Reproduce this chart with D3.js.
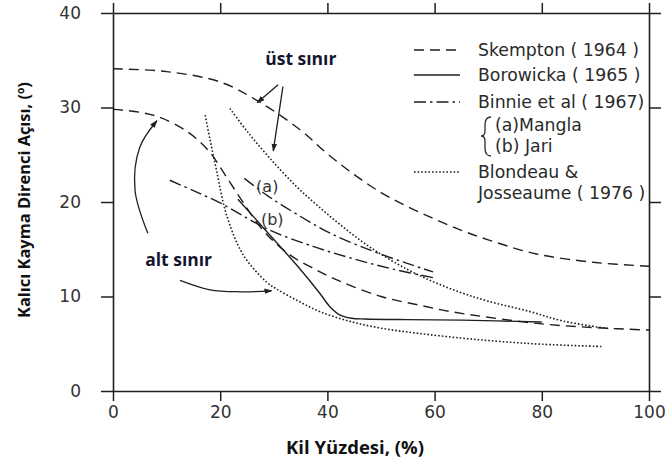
<!DOCTYPE html>
<html>
<head>
<meta charset="utf-8">
<script src="https://cdn.jsdelivr.net/npm/d3@7/dist/d3.min.js"></script>
<style>
  html, body { margin: 0; padding: 0; background: #fff; }
  svg { display: block; }
</style>
</head>
<body>
<svg id="chart" width="665" height="464"></svg>
<script>
// Residual friction angle vs clay fraction (published correlations)
const xTicks = [0, 20, 40, 60, 80, 100];
const yTicks = [0, 10, 20, 30, 40];

// Skempton (1964) – upper and lower bounds
const skemptonUpper = [[0,34.1],[10,33.8],[20,32.7],[27,30.7],[35,27.6],[40,25.1],[45,22.9],[50,21.0],[55,19.5],[60,18.2],[65,17.0],[70,16.0],[79,14.5],[90,13.6],[100,13.2]];
const skemptonLower = [[0,29.8],[5,29.5],[9,28.9],[14,27.4],[18,25.3],[21,22.8],[24,20.2],[28,17.0],[33,14.4],[38,12.8],[42,11.7],[50,10.0],[57,9.1],[63,8.4],[70,7.8],[80,7.1],[90,6.7],[100,6.45]];
// Borowicka (1965)
const borowicka = [[23.3,20.3],[28,17.3],[34.3,13.3],[38.5,10.4],[40.5,8.9],[42.5,8.0],[44.5,7.7],[47,7.62],[55,7.55],[65,7.5],[80,7.3]];
// Binnie et al (1967): (a) Mangla, (b) Jari
const binnieMangla = [[24.5,22.5],[29,20.6],[34.3,18.7],[40.5,16.7],[48,14.9],[54.9,13.5],[59.7,12.6]];
const binnieJari = [[10.6,22.3],[15,21.2],[20,19.9],[25,18.3],[29.3,17.0],[37.3,15.3],[44.8,14.0],[52.2,12.9],[59.7,12.0]];
// Blondeau & Josseaume (1976) – upper and lower bounds
const blondeauUpper = [[21.8,29.9],[25,27.5],[29.3,24.6],[34.3,21.6],[38,19.7],[42.4,17.6],[48,15.2],[54.8,12.9],[60,11.5],[65,10.4],[70,9.5],[77.8,8.4],[84,7.4],[92.5,6.6]];
const blondeauLower = [[17.2,29.2],[18.1,26.6],[19.3,23.4],[21.2,18.6],[24.3,14.4],[28.7,11.5],[30.5,10.8],[34.3,9.6],[38.6,8.4],[44,7.4],[50,6.65],[57,6.1],[65,5.6],[72,5.25],[80,4.95],[91.5,4.7]];

// Annotation arrows (data units)
const upperArrows = [
  [[30.8,32.4],[26.9,30.5]],
  [[31.7,32.2],[29.9,25.4]]
];
const lowerArrows = [
  [[6.5,16.7],[4.1,21.3],[5.0,25.8],[8.2,28.6]],
  [[12.5,11.7],[18.1,10.7],[23.7,10.5],[29.6,10.6]]
];
const upperLabel = { text: "üst sınır", x: 28.4, y: 35.2 };
const lowerLabel = { text: "alt sınır", x: 6.0, y: 14.0 };

const legendItems = [
  { label: "Skempton ( 1964 )", style: "dashed" },
  { label: "Borowicka ( 1965 )", style: "solid" },
  { label: "Binnie et al ( 1967)", style: "dashdot" },
  { label: "Blondeau  &", style: "dotted" }
];

const ink = "#1f1f1f";
const styles = {
  dashed:  { dash: "10,6", width: 1.4 },
  solid:   { dash: null, width: 1.4 },
  dashdot: { dash: "12,4,2.5,4", width: 1.4 },
  dotted:  { dash: "1.6,2", width: 1.6 }
};

const svg = d3.select("#chart");
const x = d3.scaleLinear().domain([0, 100]).range([113, 649]);
const y = d3.scaleLinear().domain([0, 40]).range([391, 13]);

const tickFont = "DejaVu Sans, sans-serif";
const boldFont = "'Open Sans', sans-serif";

function styleAxis(g) {
  g.selectAll("path.domain").attr("stroke", ink).attr("stroke-width", 1.6);
  g.selectAll(".tick line").attr("stroke", ink).attr("stroke-width", 1.5);
  g.selectAll(".tick text").attr("fill", "#333").attr("font-family", tickFont).attr("font-size", 17);
}

svg.append("g").attr("transform", `translate(0,${y(0)})`)
  .call(d3.axisBottom(x).tickValues(xTicks).tickSize(10).tickSizeOuter(0).tickPadding(5))
  .call(styleAxis);
svg.append("g").attr("transform", `translate(0,${y(40)})`)
  .call(d3.axisTop(x).tickValues(xTicks).tickSize(10).tickSizeOuter(0).tickFormat(""))
  .call(styleAxis);
svg.append("g").attr("transform", `translate(${x(0)},0)`)
  .call(d3.axisLeft(y).tickValues(yTicks).tickSize(12).tickSizeOuter(0).tickPadding(20))
  .call(styleAxis);
svg.append("g").attr("transform", `translate(${x(100)},0)`)
  .call(d3.axisRight(y).tickValues(yTicks).tickSize(12).tickSizeOuter(0).tickFormat(""))
  .call(styleAxis);

// Axis titles
svg.append("text")
  .attr("x", 355).attr("y", 454)
  .attr("text-anchor", "middle")
  .attr("font-family", boldFont).attr("font-weight", 700).attr("font-size", 18.5)
  .attr("fill", "#111")
  .text("Kil Yüzdesi, (%)");
svg.append("text")
  .attr("transform", "translate(30,200) rotate(-90)")
  .attr("text-anchor", "middle")
  .attr("font-family", boldFont).attr("font-weight", 700).attr("font-size", 16.4)
  .attr("fill", "#111")
  .text("Kalıcı Kayma Direnci Açısı, (º)");

// Curves
const line = d3.line().x(d => x(d[0])).y(d => y(d[1])).curve(d3.curveCatmullRom.alpha(0.5));
const series = [
  { data: skemptonUpper, style: "dashed" },
  { data: skemptonLower, style: "dashed" },
  { data: borowicka, style: "solid" },
  { data: binnieMangla, style: "dashdot" },
  { data: binnieJari, style: "dashdot" },
  { data: blondeauUpper, style: "dotted" },
  { data: blondeauLower, style: "dotted" }
];
svg.append("g").selectAll("path")
  .data(series)
  .join("path")
  .attr("d", d => line(d.data))
  .attr("fill", "none")
  .attr("stroke", ink)
  .attr("stroke-width", d => styles[d.style].width)
  .attr("stroke-dasharray", d => styles[d.style].dash);

// Curve tags
svg.append("text").attr("x", x(26.7)).attr("y", y(21.6))
  .attr("dominant-baseline", "central").attr("font-family", tickFont).attr("font-size", 16).attr("fill", "#333")
  .text("(a)");
svg.append("text").attr("x", x(27.6)).attr("y", y(18.1))
  .attr("dominant-baseline", "central").attr("font-family", tickFont).attr("font-size", 16).attr("fill", "#333")
  .text("(b)");

// Arrow marker
svg.append("defs").append("marker")
  .attr("id", "head")
  .attr("viewBox", "0 0 10 10")
  .attr("refX", 9).attr("refY", 5)
  .attr("markerWidth", 8).attr("markerHeight", 8)
  .attr("markerUnits", "userSpaceOnUse")
  .attr("orient", "auto")
  .append("path").attr("d", "M0,1.5 L10,5 L0,8.5 Z").attr("fill", ink);

const straight = d3.line().x(d => x(d[0])).y(d => y(d[1]));
const curved = d3.line().x(d => x(d[0])).y(d => y(d[1])).curve(d3.curveCatmullRom);
svg.append("g").selectAll("path")
  .data(upperArrows).join("path")
  .attr("d", straight)
  .attr("fill", "none").attr("stroke", ink).attr("stroke-width", 1.3)
  .attr("marker-end", "url(#head)");
svg.append("g").selectAll("path")
  .data(lowerArrows).join("path")
  .attr("d", curved)
  .attr("fill", "none").attr("stroke", ink).attr("stroke-width", 1.3)
  .attr("marker-end", "url(#head)");

[upperLabel, lowerLabel].forEach(l => {
  svg.append("text")
    .attr("x", x(l.x)).attr("y", y(l.y))
    .attr("dominant-baseline", "central")
    .attr("font-family", boldFont).attr("font-weight", 700).attr("font-size", 17.5)
    .attr("fill", "#151530")
    .text(l.text);
});

// Legend
const legend = svg.append("g");
const rowY = [50, 75, 102, 172];
legendItems.forEach((item, i) => {
  const st = styles[item.style];
  legend.append("line")
    .attr("x1", 414).attr("x2", 460)
    .attr("y1", rowY[i]).attr("y2", rowY[i])
    .attr("stroke", ink).attr("stroke-width", st.width)
    .attr("stroke-dasharray", st.dash);
  legend.append("text")
    .attr("x", 478).attr("y", rowY[i])
    .attr("dominant-baseline", "central")
    .attr("font-family", tickFont).attr("font-size", 17.3).attr("fill", "#2a2a2a")
    .text(item.label);
});
const subLabels = [
  { text: "(a)Mangla", y: 125 },
  { text: "(b) Jari", y: 146 },
  { text: "Josseaume ( 1976 )", y: 193, x: 478 }
];
subLabels.forEach(s => {
  legend.append("text")
    .attr("x", s.x || 495).attr("y", s.y)
    .attr("dominant-baseline", "central")
    .attr("font-family", tickFont).attr("font-size", 17.3).attr("fill", "#2a2a2a")
    .text(s.text);
});
// Brace grouping the Binnie sites
legend.append("path")
  .attr("d", "M491,117 Q485,117 485,125 L485,131 Q485,136 481,136 Q485,136 485,141 L485,148 Q485,156 491,156")
  .attr("fill", "none").attr("stroke", "#2a2a2a").attr("stroke-width", 1.3);
</script>
</body>
</html>
